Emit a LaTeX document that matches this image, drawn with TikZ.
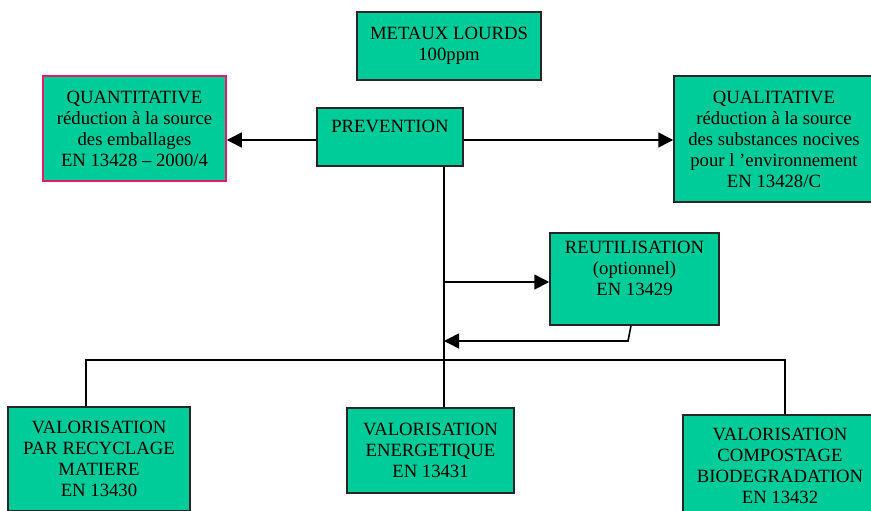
\documentclass[tikz,border=0pt]{standalone}
\usepackage{fontspec}
\setmainfont{Liberation Serif}
\usepackage{tikz}
\usetikzlibrary{arrows.meta,positioning,calc}
\definecolor{boxgreen}{HTML}{00CC99}
\definecolor{quantpink}{HTML}{E8186E}

\begin{document}
\begin{tikzpicture}[x=1pt,y=-1pt,font=\fontsize{18.7}{21}\selectfont,
  box/.style={draw=black!85, line width=1.5pt, fill=boxgreen, align=center, inner sep=0pt},
  link/.style={line width=1.6pt},
  tip/.style={-{Triangle[length=15pt,width=15pt]}}]
\useasboundingbox (0,0) rectangle (871,511);
\node[box, minimum width=184, minimum height=68] (metaux) at (449,46) {METAUX LOURDS\\100ppm};
\node[box, minimum width=146, minimum height=58] (prev) at (390,137) {PREVENTION\\\mbox{}};
\node[box, draw=quantpink, minimum width=183, minimum height=105] (quant) at (134.5,128.5)
  {QUANTITATIVE\\réduction à la source\\des emballages\\EN 13428 – 2000/4};
\node[box, minimum width=200, minimum height=126] (qual) at (774,139)
  {QUALITATIVE\\réduction à la source\\des substances nocives\\pour l ’environnement\\EN 13428/C};
\node[box, minimum width=169, minimum height=92] (reut) at (634.5,279)
  {REUTILISATION\\(optionnel)\\EN 13429\\\mbox{}};
\node[box, minimum width=182, minimum height=104] (recy) at (99,459)
  {VALORISATION\\PAR RECYCLAGE\\MATIERE\\EN 13430};
\node[box, minimum width=167, minimum height=85] (ener) at (430.5,450.5)
  {VALORISATION\\ENERGETIQUE\\EN 13431};
\node[box, minimum width=194, minimum height=102] (comp) at (780,466)
  {VALORISATION\\COMPOSTAGE\\BIODEGRADATION\\EN 13432};
\coordinate (trunk) at (444,166);
\coordinate (sidelvl) at (0,140);
\coordinate (reutlvl) at (0,282);
\coordinate (back) at (628,341);
\coordinate (busL) at (86,360);
\coordinate (busR) at (785,360);
\draw[link,tip] (prev.west |- sidelvl) -- (quant.east |- sidelvl);
\draw[link,tip] (prev.east |- sidelvl) -- (qual.west |- sidelvl);
\draw[link] (prev.south -| trunk) -- (ener.north -| trunk);
\draw[link,tip] (trunk |- reutlvl) -- (reut.west |- reutlvl);
\draw[link,tip] (reut.south -| 631,0) -- (back) -- (back -| trunk);
\draw[link] (recy.north -| busL) -- (busL) -- (busR) -- (comp.north -| busR);
\end{tikzpicture}
\end{document}
